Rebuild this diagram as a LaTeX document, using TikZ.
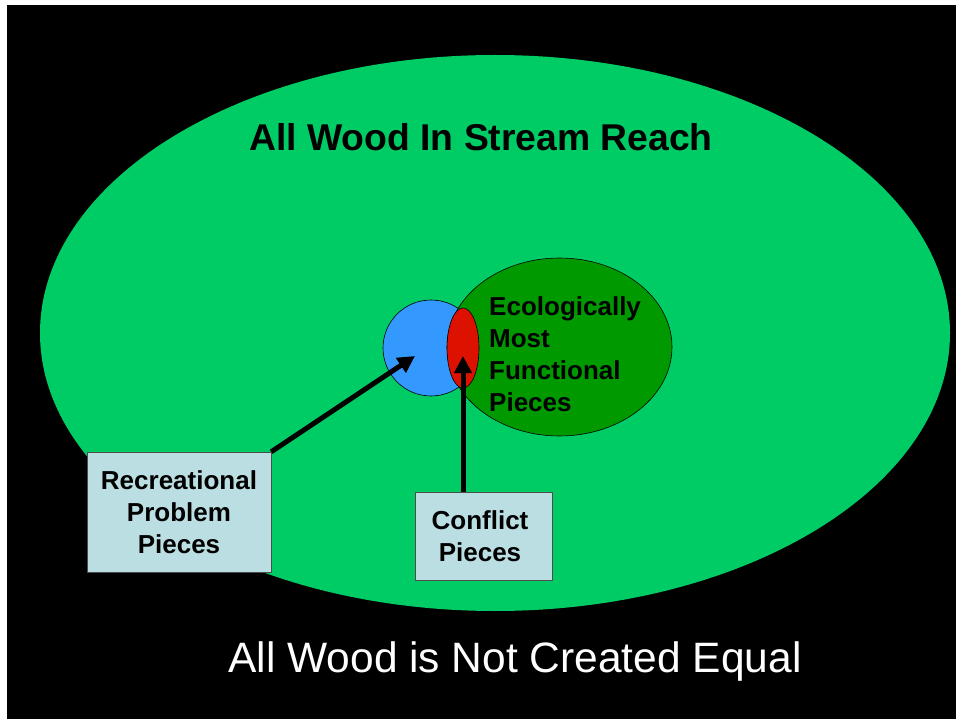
\documentclass[tikz,border=0pt]{standalone}
\usepackage{fontspec}
\setmainfont{Liberation Sans}
\usetikzlibrary{arrows.meta,positioning,shapes.geometric}
\definecolor{reachgreen}{HTML}{00CC66}
\definecolor{ecogreen}{HTML}{009900}
\definecolor{recblue}{HTML}{3399FF}
\definecolor{conflictred}{HTML}{DD1100}
\definecolor{boxblue}{HTML}{BBDEE2}

\begin{document}
\begin{tikzpicture}[
  x=1pt,y=-1pt,
  >=Stealth,
  zone/.style={ellipse,inner sep=0pt,draw=black,line width=0.6pt},
  piece/.style={draw=black!70,fill=boxblue,align=center,inner sep=0pt,
    font=\fontsize{26}{32}\selectfont\bfseries},
  arr/.style={-{Triangle[length=17pt,width=17pt]},line width=5pt}
]
\useasboundingbox (0,0) rectangle (956,719);
\fill[black] (7,5) rectangle (956,719);
\node[ellipse,inner sep=0pt,fill=reachgreen,minimum width=910pt,minimum height=556pt]
  (reach) at (495,333) {};
\node[font=\fontsize{37.3}{44}\selectfont\bfseries] (title) at (481,137)
  {All Wood In Stream Reach};
\node[zone,fill=recblue,minimum width=96pt,minimum height=96pt] (rec) at (431,348) {};
\node[zone,fill=ecogreen,minimum width=225pt,minimum height=178pt] (eco) at (559.5,347) {};
\node[zone,fill=conflictred,minimum width=32pt,minimum height=80pt] (conf) at (463,348) {};
\node[anchor=west,align=left,inner sep=0pt,
  font=\fontsize{26}{32}\selectfont\bfseries] (ecotext) at (489,354)
  {Ecologically\\Most\\Functional\\Pieces};
\node[piece,minimum width=184pt,minimum height=120pt] (recbox) at (179,512)
  {Recreational\\Problem\\Pieces};
\node[piece,minimum width=137pt,minimum height=88pt,text width=133pt] (confbox) at (483.5,536)
  {\hspace*{-7pt}Conflict\\\hspace*{-7pt}Pieces};
\coordinate (rectip) at (415,356);
\coordinate (conftip) at (463,356);
\draw[arr] (recbox.north east) -- (rectip);
\draw[arr] (confbox.north -| conftip) -- (conftip);
\node[text=white,font=\fontsize{42.5}{50}\selectfont] (motto) at (515,662)
  {All Wood is Not Created Equal};
\end{tikzpicture}
\end{document}
